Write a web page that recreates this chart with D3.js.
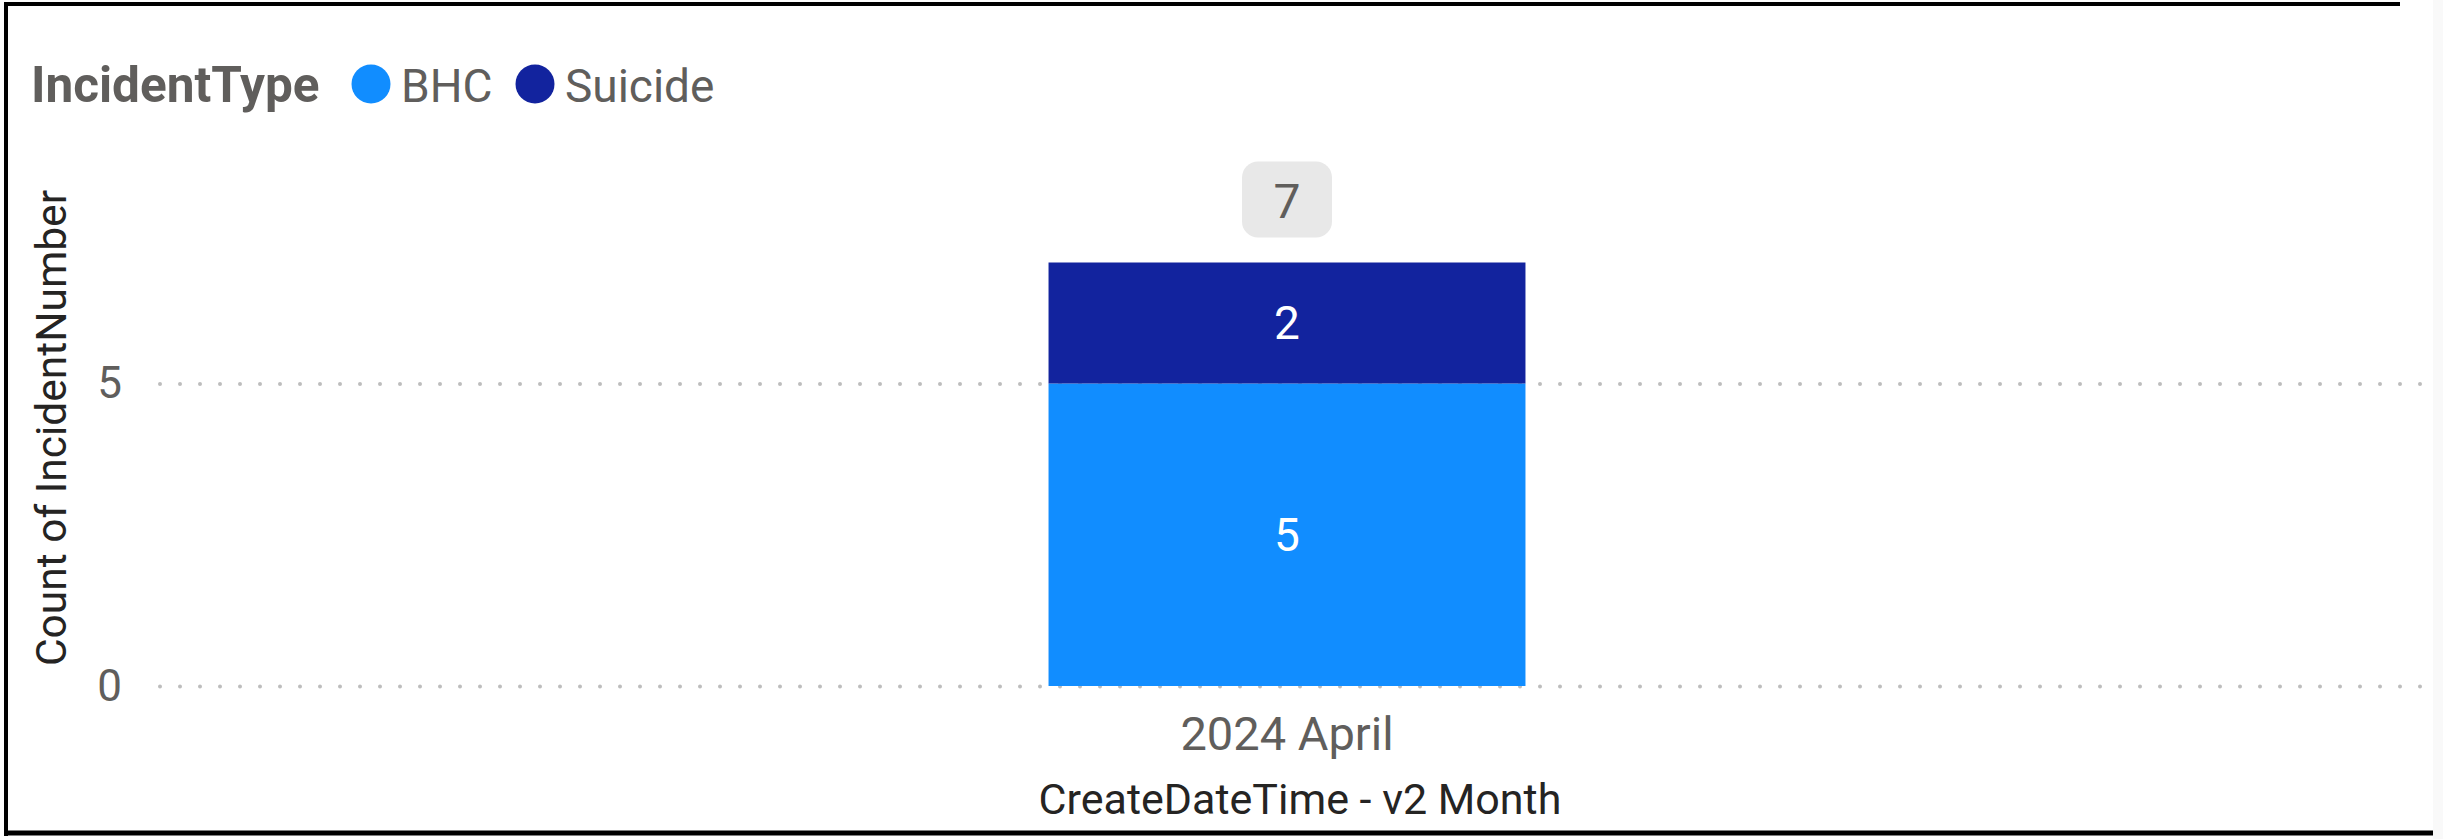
<!doctype html>
<html>
<head>
<meta charset="UTF-8">
<script src="https://d3js.org/d3.v7.min.js"></script>
<style>
	body { margin: 0; background: #fff; overflow: hidden; }
	svg { display: block; font-family: "Roboto", "Noto Sans", sans-serif; }
</style>
</head>
<body>
	<svg id="chartWrapper"></svg>

	<script>
		// chart data
		const categories = ["2024 April"];
		const seriesNames = ["BHC", "Suicide"];
		const bhcValues = [5];
		const suicideValues = [2];
		const yTickValues = [0, 5];
		const seriesColors = ["#118DFF", "#12239E"];

		(function(){
			let W = 2443, H = 839;
			let svg = d3.select("#chartWrapper")
				.attr("width", W)
				.attr("height", H);

			// frame: light strip on the right, then the black border lines
			svg.append("rect").attr("x", 0).attr("y", 0).attr("width", W).attr("height", H).attr("fill", "#fff");
			svg.append("rect").attr("x", 2433).attr("y", 0).attr("width", 10).attr("height", H).attr("fill", "#f9f9f9");
			svg.append("line").attr("x1", 6).attr("x2", 6).attr("y1", 2).attr("y2", 836)
				.attr("stroke", "#000").attr("stroke-width", 4);
			svg.append("line").attr("x1", 4).attr("x2", 2400).attr("y1", 4).attr("y2", 4)
				.attr("stroke", "#000").attr("stroke-width", 4);
			svg.append("line").attr("x1", 4).attr("x2", 2433).attr("y1", 833).attr("y2", 833)
				.attr("stroke", "#000").attr("stroke-width", 5);

			let rows = categories.map(function(c, i){
				return {category: c, BHC: bhcValues[i], Suicide: suicideValues[i]};
			});
			let stacked = d3.stack().keys(seriesNames)(rows);

			let plotLeft = 160, plotRight = 2425;
			let xSca = d3.scaleBand()
				.domain(categories)
				.range([plotLeft, 2414])
				.paddingInner(0)
				.paddingOuter(1.863);

			let ySca = d3.scaleLinear()
				.domain([0, 8])
				.range([686, 202]);

			let color = d3.scaleOrdinal().domain(seriesNames).range(seriesColors);

			// dotted gridlines
			let grid = svg.append("g")
				.attr("transform", "translate(" + plotLeft + ",0)")
				.call(d3.axisLeft(ySca).tickValues(yTickValues).tickSize(-(plotRight - plotLeft)).tickFormat(""));
			grid.select(".domain").remove();
			grid.selectAll("line")
				.attr("stroke", "#bdbdbd")
				.attr("stroke-width", 4)
				.attr("stroke-linecap", "round")
				.attr("stroke-dasharray", "0 20");

			// y tick labels
			let yAxis = svg.append("g")
				.attr("transform", "translate(" + plotLeft + ",0)")
				.call(d3.axisLeft(ySca).tickValues(yTickValues).tickSize(0).tickPadding(38));
			yAxis.select(".domain").remove();
			yAxis.selectAll("text")
				.attr("fill", "#605E5C")
				.style("font-size", "44px")
				.style("font-family", "Roboto");

			// x axis labels
			let xAxis = svg.append("g")
				.attr("transform", "translate(0,686)")
				.call(d3.axisBottom(xSca).tickSize(0).tickPadding(31));
			xAxis.select(".domain").remove();
			xAxis.selectAll("text")
				.attr("fill", "#605E5C")
				.style("font-size", "47px")
				.style("font-family", "Roboto");

			// stacked bars
			let layers = svg.selectAll(".layer")
				.data(stacked)
				.enter().append("g")
				.attr("class", "layer")
				.attr("fill", function(d){ return color(d.key); });

			layers.selectAll("rect")
				.data(function(d){ return d; })
				.enter().append("rect")
				.attr("x", function(d){ return xSca(d.data.category); })
				.attr("y", function(d){ return ySca(d[1]); })
				.attr("width", xSca.bandwidth())
				.attr("height", function(d){ return ySca(d[0]) - ySca(d[1]); });

			layers.selectAll("text")
				.data(function(d){ return d; })
				.enter().append("text")
				.attr("x", function(d){ return xSca(d.data.category) + xSca.bandwidth() / 2; })
				.attr("y", function(d){ return (ySca(d[0]) + ySca(d[1])) / 2 + 16; })
				.attr("text-anchor", "middle")
				.attr("fill", "#fff")
				.style("font-size", "46px")
				.text(function(d){ return d[1] - d[0]; });

			// total labels
			let totals = rows.map(function(r){ return {category: r.category, total: r.BHC + r.Suicide}; });
			let tot = svg.selectAll(".total")
				.data(totals)
				.enter().append("g")
				.attr("class", "total");
			tot.append("rect")
				.attr("x", function(d){ return xSca(d.category) + xSca.bandwidth() / 2 - 45; })
				.attr("y", function(d){ return ySca(d.total) - 101; })
				.attr("width", 90)
				.attr("height", 76)
				.attr("rx", 16)
				.attr("fill", "#e8e8e8");
			tot.append("text")
				.attr("x", function(d){ return xSca(d.category) + xSca.bandwidth() / 2; })
				.attr("y", function(d){ return ySca(d.total) - 45; })
				.attr("text-anchor", "middle")
				.attr("fill", "#605E5C")
				.style("font-size", "48px")
				.text(function(d){ return d.total; });

			// axis titles
			svg.append("text")
				.attr("transform", "translate(66,428) rotate(-90)")
				.attr("text-anchor", "middle")
				.attr("fill", "#252423")
				.style("font-size", "42.5px")
				.text("Count of IncidentNumber");

			svg.append("text")
				.attr("x", 1300)
				.attr("y", 814)
				.attr("text-anchor", "middle")
				.attr("fill", "#252423")
				.style("font-size", "43px")
				.text("CreateDateTime - v2 Month");

			// legend
			let legend = svg.append("g");
			legend.append("text")
				.attr("x", 31)
				.attr("y", 102)
				.attr("fill", "#605E5C")
				.style("font-size", "49.5px")
				.style("font-weight", "bold")
				.text("IncidentType");

			let legendX = [371, 535];
			let items = legend.selectAll(".item")
				.data(seriesNames)
				.enter().append("g")
				.attr("class", "item")
				.attr("transform", function(d, i){ return "translate(" + legendX[i] + ",84)"; });
			items.append("circle")
				.attr("r", 19.5)
				.attr("fill", function(d){ return color(d); });
			items.append("text")
				.attr("x", 30)
				.attr("y", 18)
				.attr("fill", "#605E5C")
				.style("font-size", "46px")
				.text(function(d){ return d; });
		})();
	</script>
</body>
</html>
